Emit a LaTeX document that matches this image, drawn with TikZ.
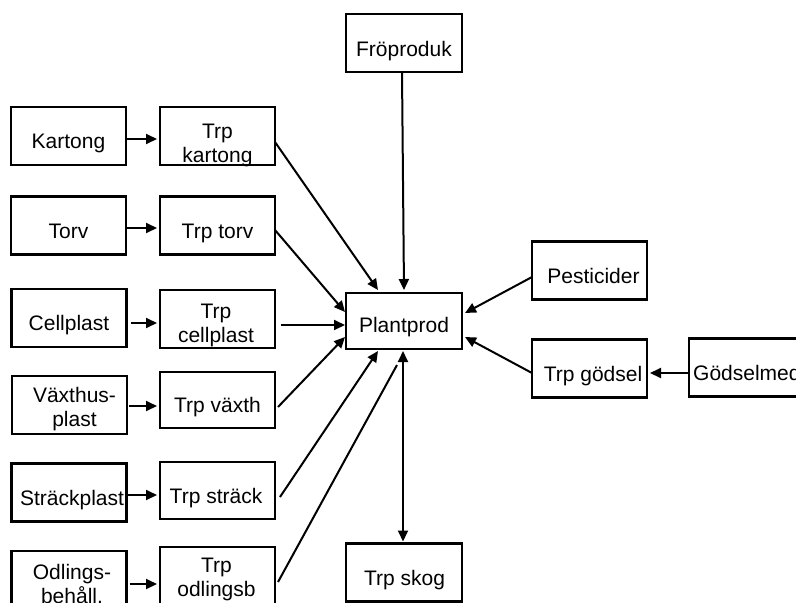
\documentclass[tikz,border=0pt]{standalone}
\usepackage{fontspec}
\setmainfont{Liberation Sans}
\usetikzlibrary{arrows.meta,calc}
\tikzset{
  box/.style={draw=black, line width=2.3pt, minimum width=115pt, minimum height=58pt, inner sep=0pt, outer sep=0pt},
  tone/.style={inner sep=0pt, font=\fontsize{21}{24}\selectfont, text height=15pt, text depth=0pt},
  ttwo/.style={inner sep=0pt, font=\fontsize{21}{24}\selectfont, align=center},
  conn/.style={line width=2pt},
  arr/.style={conn, -{Triangle[length=11pt,width=10pt]}},
  darr/.style={conn, {Triangle[length=11pt,width=10pt]}-{Triangle[length=11pt,width=10pt]}}
}
\begin{document}
\begin{tikzpicture}[x=1pt,y=-1pt]
\useasboundingbox (0,0) rectangle (796,603);
\clip (0,0) rectangle (796,603);
% boxes
\node[box] (kart) at (68.5,136) {};
\node[box] (tkart) at (217.5,136) {};
\node[box] (torv) at (68.5,225.5) {};
\node[box] (ttorv) at (217.5,225.5) {};
\node[box] (cell) at (69,318) {};
\node[box] (tcell) at (217.5,319) {};
\node[box] (vaxt) at (69.5,405) {};
\node[box, minimum height=56pt] (tvaxt) at (217.5,400) {};
\node[box] (strack) at (69,492.5) {};
\node[box, minimum height=57pt] (tstrack) at (217.5,490.5) {};
\node[box] (odl) at (69,580) {};
\node[box] (todl) at (217.5,576) {};
\node[box, minimum width=116pt] (fro) at (404,43) {};
\node[box, minimum width=116pt, minimum height=56pt] (plant) at (404,321) {};
\node[box] (pest) at (589.5,270.5) {};
\node[box] (tgod) at (589.5,368.5) {};
\node[box] (god) at (746.5,367.5) {};
\node[box, minimum width=116pt] (tskog) at (404,572.5) {};
% texts
\node[tone] at ($(kart)+(0,5)$) {Kartong};
\node[ttwo] at ($(tkart)+(0,9.7)$) {Trp\\kartong};
\node[tone] at ($(torv)+(0,5)$) {Torv};
\node[tone] at ($(ttorv)+(0,5)$) {Trp torv};
\node[tone] at ($(cell)+(0,5)$) {Cellplast};
\node[ttwo] at ($(tcell)+(-1.5,6.7)$) {Trp\\cellplast};
\node[ttwo] at ($(vaxt)+(5,3.7)$) {Växthus-\\plast};
\node[tone] at ($(tvaxt)+(0,5)$) {Trp växth};
\node[tone] at ($(strack)+(3,5)$) {Sträckplast};
\node[tone] at ($(tstrack)+(-1.5,5)$) {Trp sträck};
\node[ttwo] at ($(odl)+(3,3.7)$) {Odlings-\\behåll.};
\node[ttwo] at ($(todl)+(-1,3.7)$) {Trp\\odlingsb};
\node[tone] at ($(fro)+(0,5.5)$) {Fröproduk};
\node[tone] at ($(plant)+(0,4)$) {Plantprod};
\node[tone] at ($(pest)+(4,5.5)$) {Pesticider};
\node[tone] at ($(tgod)+(3.5,5)$) {Trp gödsel};
\node[tone, anchor=west] at ($(god.west)+(4,5)$) {Gödselmedel};
\node[tone] at ($(tskog)+(0.5,5)$) {Trp skog};
% connectors
\draw[arr] ($(kart.east)+(0,3)$) -- ($(tkart.west)+(-3,3)$);
\draw[arr] ($(torv.east)+(0,2.5)$) -- ($(ttorv.west)+(-3,2.5)$);
\draw[arr] ($(cell.east)+(4,5)$) -- ($(tcell.west)+(-3,4)$);
\draw[arr] ($(vaxt.east)+(2,1)$) -- ($(tvaxt.west)+(-3,6)$);
\draw[arr] ($(strack.east)+(0,2.5)$) -- ($(tstrack.west)+(-3,4.5)$);
\draw[arr] ($(odl.east)+(3,4)$) -- ($(todl.west)+(-3,8)$);
\draw[arr] ($(tkart.east)+(0,6)$) -- ($(plant.north)+(-26,-3)$);
\draw[arr] ($(ttorv.east)+(0,4.5)$) -- ($(plant.west)+(-1,-9)$);
\draw[arr] ($(tcell.east)+(6,6)$) -- ($(plant.west)+(-1,4)$);
\draw[arr] ($(tvaxt.east)+(3,7)$) -- ($(plant.west)+(-1,16)$);
\draw[arr] ($(tstrack.east)+(5,6.5)$) -- ($(plant.south)+(-26,2)$);
\draw[conn] ($(todl.east)+(3,6)$) -- ($(plant.south)+(-7,16)$);
\draw[arr] (fro.south) ++(-2,0) -- ($(plant.north)+(0,-3)$);
\draw[darr] ($(plant.south)+(-1,2)$) -- ($(tskog.north)+(-1,-2)$);
\draw[arr] ($(pest.west)+(0,6.5)$) -- ($(plant.east)+(3,-8)$);
\draw[arr] ($(tgod.west)+(0,4.5)$) -- ($(plant.east)+(3,16)$);
\draw[arr] ($(god.west)+(0,5.5)$) -- ($(tgod.east)+(3,4.5)$);
\end{tikzpicture}
\end{document}
